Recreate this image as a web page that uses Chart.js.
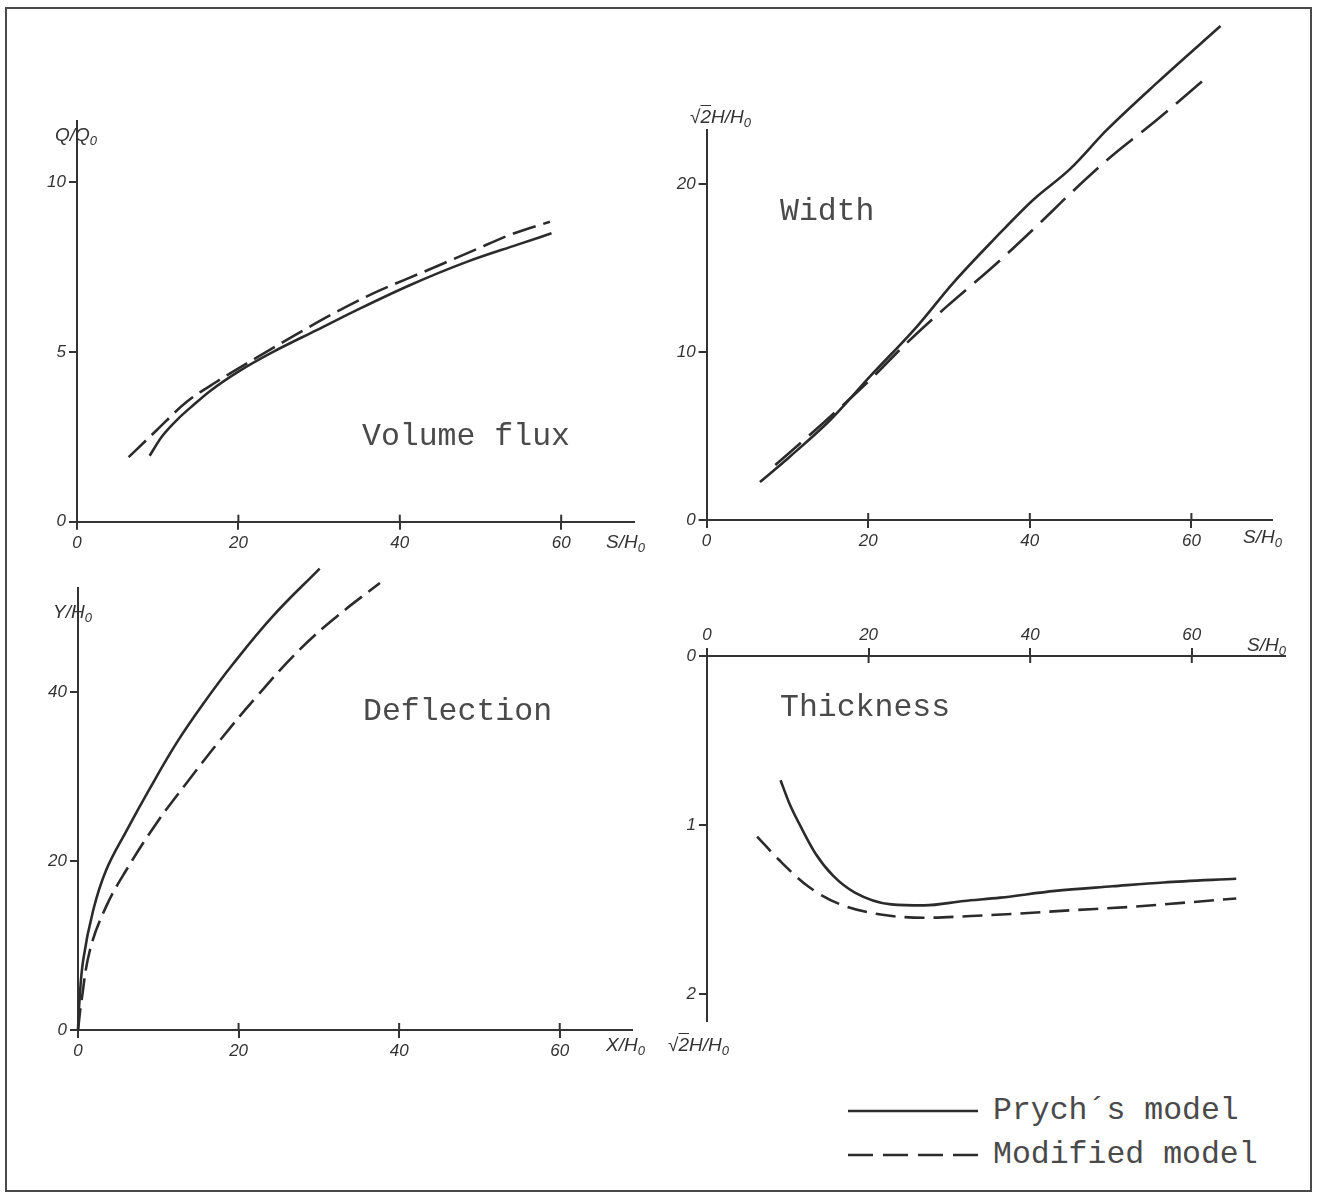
<!DOCTYPE html>
<html><head><meta charset="utf-8">
<script src="https://cdn.jsdelivr.net/npm/chart.js@4.4.1/dist/chart.umd.min.js"></script>
<style>
html,body{margin:0;padding:0;background:#fff;}
#page{position:relative;width:1318px;height:1194px;overflow:hidden;background:#fff;}
canvas{position:absolute;}
.frame{position:absolute;left:5px;top:7px;width:1307px;height:1185px;border:2px solid #4a4a4a;box-sizing:border-box;}
.lbl{position:absolute;font-family:"Liberation Mono",monospace;font-size:31.5px;line-height:32px;color:#4a4a4a;white-space:pre;}
.ax{position:absolute;font-family:"Liberation Sans",sans-serif;font-style:italic;font-size:19px;line-height:20px;color:#333;white-space:nowrap;}
.ax sub{font-size:13px;vertical-align:-4px;}
.ov{text-decoration:overline;}
</style></head>
<body><div id="page">
<div class="frame"></div>
<canvas id="c1" width="660" height="480" style="left:0;top:90px"></canvas>
<canvas id="c2" width="658" height="570" style="left:660px;top:0"></canvas>
<canvas id="c3" width="660" height="530" style="left:0;top:560px"></canvas>
<canvas id="c4" width="658" height="440" style="left:660px;top:600px"></canvas>

<div class="lbl" style="left:362px;top:421px">Volume flux</div>
<div class="lbl" style="left:780px;top:196px">Width</div>
<div class="lbl" style="left:363px;top:696px">Deflection</div>
<div class="lbl" style="left:780px;top:692px">Thickness</div>
<div class="lbl" id="lg1" style="left:993px;top:1095px"></div>
<div class="lbl" id="lg2" style="left:993px;top:1139px"></div>
<svg style="position:absolute;left:0;top:0" width="1318" height="1194">
  <line x1="848" y1="1111" x2="978" y2="1111" stroke="#2b2b2b" stroke-width="2.6"/>
  <line x1="848" y1="1155" x2="978" y2="1155" stroke="#2b2b2b" stroke-width="2.6" stroke-dasharray="25 10"/>
</svg>

<div class="ax" style="left:55px;top:125px">Q/Q<sub>0</sub></div>
<div class="ax" style="left:606px;top:532px">S/H<sub>0</sub></div>
<div class="ax" style="left:690px;top:107px">√<span class="ov">2</span>H/H<sub>0</sub></div>
<div class="ax" style="left:1243px;top:527px">S/H<sub>0</sub></div>
<div class="ax" style="left:53px;top:602px">Y/H<sub>0</sub></div>
<div class="ax" style="left:606px;top:1035px">X/H<sub>0</sub></div>
<div class="ax" style="left:1247px;top:635px">S/H<sub>0</sub></div>
<div class="ax" style="left:668px;top:1035px">√<span class="ov">2</span>H/H<sub>0</sub></div>
</div>
<script>
// ---- data ----
const SERIES_NAMES = ["Prych\u00B4s model", "Modified model"];

// Volume flux Q/Q0 vs S/H0
const Q_S_PRYCH = [9.0, 10.5, 12.4, 14.5, 16.5, 20.0, 24.3, 29.7, 35.1, 41.3, 48.3, 54.5, 58.8];
const Q_PRYCH   = [1.94, 2.5, 3.0, 3.45, 3.85, 4.42, 5.0, 5.64, 6.28, 6.97, 7.65, 8.15, 8.49];
const Q_S_MOD   = [6.4, 9.9, 13.6, 17.3, 21.4, 26.0, 31.4, 36.7, 42.5, 49.1, 53.7, 58.6];
const Q_MOD     = [1.9, 2.7, 3.53, 4.12, 4.71, 5.35, 6.08, 6.72, 7.31, 7.98, 8.45, 8.83];

// Width sqrt2 H/H0 vs S/H0
const W_S_PRYCH = [6.6, 10.3, 15.3, 20.2, 26.0, 30.5, 35.5, 40.4, 45.0, 49.5, 55.7, 63.6];
const W_PRYCH   = [2.26, 3.77, 5.95, 8.53, 11.5, 14.1, 16.67, 19.05, 20.9, 23.2, 26.0, 29.4];
const W_S_MOD   = [8.5, 14.4, 20.2, 24.7, 29.7, 35.5, 41.3, 45.4, 50.0, 55.7, 61.3];
const W_MOD     = [3.27, 5.76, 8.33, 10.5, 12.7, 15.1, 17.7, 19.6, 21.6, 23.8, 26.1];

// Deflection Y/H0 vs X/H0
const D_X_PRYCH = [0, 0.15, 0.65, 1.9, 3.5, 6.0, 8.9, 12.3, 15.6, 19.3, 24.3, 30.1];
const D_PRYCH   = [0, 3.0, 8.3, 14.2, 18.9, 23.5, 28.5, 34.0, 38.6, 43.3, 49.0, 54.6];
const D_X_MOD   = [0, 0.4, 1.5, 3.5, 6.0, 9.8, 13.5, 17.7, 22.2, 27.6, 32.2, 37.6];
const D_MOD     = [0, 3.2, 9.5, 14.6, 18.9, 24.5, 29.2, 34.3, 39.4, 45.0, 48.9, 52.9];

// Thickness sqrt2 H/H0 vs S/H0 (downward axis)
const T_S_PRYCH = [9.1, 10.2, 11.6, 13.4, 15.6, 18.3, 22.8, 26.9, 31.8, 36.3, 43.1, 50.2, 56.5, 65.5];
const T_PRYCH   = [0.735, 0.873, 1.01, 1.167, 1.30, 1.40, 1.47, 1.476, 1.45, 1.43, 1.39, 1.363, 1.34, 1.318];
const T_S_MOD   = [6.2, 8.9, 12.5, 16.5, 21.5, 26.9, 32.7, 38.6, 45.3, 52.0, 58.8, 65.5];
const T_MOD     = [1.069, 1.206, 1.363, 1.47, 1.53, 1.549, 1.539, 1.524, 1.504, 1.486, 1.461, 1.435];

// tick labels
const X_TICKS   = [0, 20, 40, 60];
const Q_Y_TICKS = [0, 5, 10];
const W_Y_TICKS = [0, 10, 20];
const D_Y_TICKS = [0, 20, 40];
const T_Y_TICKS = [0, 1, 2];

document.getElementById('lg1').textContent = SERIES_NAMES[0];
document.getElementById('lg2').textContent = SERIES_NAMES[1];

function pts(xs, ys){ return xs.map((x, i) => ({x: x, y: ys[i]})); }

const INK = '#2b2b2b';
const AXC = '#333';
const tickFont = {family: '"Liberation Sans", sans-serif', size: 17, style: 'italic'};

// x ticks in the figure cross the axis: draw the inner half too
const crossTicks = {
  id: 'crossTicks',
  afterDraw(chart){
    const xs = chart.scales.x, ctx = chart.ctx;
    const top = xs.options.position === 'top';
    const y0 = top ? chart.chartArea.top : chart.chartArea.bottom;
    ctx.save();
    ctx.strokeStyle = AXC; ctx.lineWidth = 2;
    xs.ticks.forEach(t => {
      if (t.value === 0) return;
      const px = xs.getPixelForValue(t.value);
      ctx.beginPath();
      ctx.moveTo(px, y0);
      ctx.lineTo(px, top ? y0 + 7 : y0 - 7);
      ctx.stroke();
    });
    ctx.restore();
  }
};

function panel(id, o){
  const ds = (label, data, dash) => ({label: label, data: data, borderColor: INK, borderWidth: 2.6,
    pointRadius: 0, borderDash: dash || [], fill: false, clip: false,
    cubicInterpolationMode: o.smooth ? 'default' : 'monotone', tension: o.smooth ? 0.4 : 0});
  return new Chart(document.getElementById(id), {
    type: 'line',
    data: {datasets: [ds(SERIES_NAMES[0], o.solid), ds(SERIES_NAMES[1], o.dashed, o.dash)]},
    options: {
      responsive: false, animation: false, devicePixelRatio: 1, events: [],
      layout: {padding: o.pad},
      plugins: {legend: {display: false}, tooltip: {enabled: false}},
      scales: {
        x: {type: 'linear', position: o.xpos || 'bottom', min: 0, max: o.xmax,
            afterBuildTicks: s => { s.ticks = X_TICKS.map(v => ({value: v})); },
            afterFit: s => { s.height = o.xh; },
            grid: {drawOnChartArea: false, drawTicks: true, tickLength: 8, color: AXC, lineWidth: 2},
            border: {display: true, color: AXC, width: 2},
            ticks: {font: tickFont, color: AXC, padding: 3, maxRotation: 0, autoSkip: false}},
        y: {type: 'linear', min: 0, max: o.ymax, reverse: !!o.rev,
            afterBuildTicks: s => { s.ticks = o.yticks.map(v => ({value: v})); },
            afterFit: s => { s.width = o.yw; },
            grid: {drawOnChartArea: false, drawTicks: true, tickLength: 8, color: AXC, lineWidth: 2},
            border: {display: true, color: AXC, width: 2},
            ticks: {font: tickFont, color: AXC, padding: 3, autoSkip: false}}
      }
    },
    plugins: [crossTicks]
  });
}

panel('c1', {solid: pts(Q_S_PRYCH, Q_PRYCH), dashed: pts(Q_S_MOD, Q_MOD), dash: [24, 8],
  pad: {left: 0, top: 30.9, right: 26.2, bottom: 0}, xh: 48.3, yw: 77, xmax: 69, ymax: 11.8, yticks: Q_Y_TICKS});
panel('c2', {solid: pts(W_S_PRYCH, W_PRYCH), dashed: pts(W_S_MOD, W_MOD), dash: [34, 11],
  pad: {left: 0, top: 130.2, right: 45.8, bottom: 0}, xh: 50, yw: 46.6, xmax: 70, ymax: 23.2, yticks: W_Y_TICKS});
panel('c3', {solid: pts(D_X_PRYCH, D_PRYCH), dashed: pts(D_X_MOD, D_MOD), dash: [22, 8], smooth: true,
  pad: {left: 0, top: 28, right: 28, bottom: 0}, xh: 60, yw: 78, xmax: 69, ymax: 52.3, yticks: D_Y_TICKS});
panel('c4', {solid: pts(T_S_PRYCH, T_PRYCH), dashed: pts(T_S_MOD, T_MOD), dash: [20, 9],
  pad: {left: 0, top: 0, right: 33.3, bottom: 19}, xh: 56, yw: 47, xmax: 71.5, ymax: 2.16, rev: true,
  xpos: 'top', yticks: T_Y_TICKS});
</script>
</body></html>
